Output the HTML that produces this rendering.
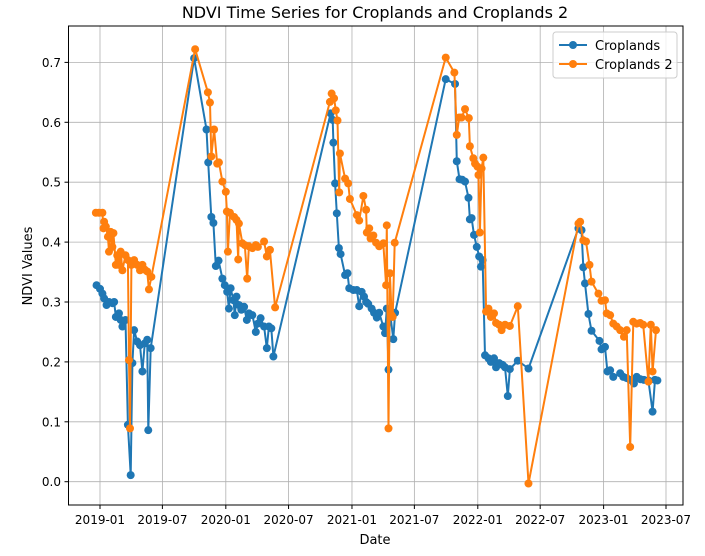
<!DOCTYPE html>
<html><head><meta charset="utf-8"><style>
html,body{margin:0;padding:0;background:#fff;}
svg{display:block;font-family:"DejaVu Sans","Liberation Sans",sans-serif;}
</style></head><body>
<svg id="chart" width="705" height="556" viewBox="0 0 705 556">
<rect width="705" height="556" fill="#fff"/>
<g id="grid"></g>
<g id="series"></g>
<rect x="68.5" y="26" width="614.5" height="479" fill="none" stroke="#000" stroke-width="1"/>
<g id="ticks"></g>
<text x="375" y="18" text-anchor="middle" font-size="16">NDVI Time Series for Croplands and Croplands 2</text>
<text x="375" y="544" text-anchor="middle" font-size="13">Date</text>
<text transform="translate(32,266) rotate(-90)" text-anchor="middle" font-size="13">NDVI Values</text>
<g>
<rect x="553" y="32" width="124" height="46" rx="3" fill="#fff" fill-opacity="0.8" stroke="#ccc"/>
<g>
<line x1="559" y1="45" x2="587" y2="45" stroke="#1f77b4" stroke-width="2"/><circle cx="573" cy="45" r="4" fill="#1f77b4"/>
<text x="595" y="50" font-size="13">Croplands</text></g>
<g>
<line x1="559" y1="64" x2="587" y2="64" stroke="#ff7f0e" stroke-width="2"/><circle cx="573" cy="64" r="4" fill="#ff7f0e"/>
<text x="595" y="69" font-size="13">Croplands 2</text></g>
</g>
</svg>
<script>
// days since 2019-01-01
const blueDays=[-10,0,7,12,19,26,36,41,46,55,60,65,74,81,89,94,99,108,116,123,130,137,140,147,273,309,314,323,329,336,344,355,362,369,374,379,387,391,396,403,410,418,426,432,442,452,458,466,476,484,490,497,503,669,675,677,682,687,693,698,711,718,723,735,745,752,759,766,772,778,788,795,803,810,822,827,832,837,841,851,856,1003,1030,1035,1043,1051,1059,1069,1073,1078,1085,1093,1100,1105,1110,1117,1127,1134,1143,1149,1158,1168,1175,1183,1189,1212,1243,1388,1397,1402,1407,1417,1426,1449,1455,1465,1472,1480,1489,1509,1518,1528,1538,1549,1557,1568,1578,1591,1603,1610,1617];
const blueValues=[0.328,0.322,0.314,0.306,0.295,0.3,0.298,0.3,0.275,0.281,0.27,0.259,0.27,0.095,0.011,0.198,0.253,0.234,0.228,0.184,0.231,0.237,0.086,0.223,0.707,0.588,0.533,0.442,0.432,0.36,0.369,0.339,0.328,0.317,0.289,0.323,0.303,0.278,0.309,0.295,0.287,0.292,0.27,0.281,0.278,0.25,0.264,0.273,0.259,0.223,0.259,0.256,0.209,0.615,0.604,0.566,0.498,0.448,0.39,0.38,0.345,0.348,0.323,0.32,0.32,0.293,0.317,0.309,0.3,0.297,0.289,0.282,0.274,0.282,0.259,0.248,0.289,0.187,0.284,0.238,0.282,0.672,0.664,0.535,0.505,0.504,0.501,0.474,0.438,0.44,0.412,0.392,0.376,0.359,0.37,0.211,0.206,0.2,0.206,0.191,0.198,0.195,0.191,0.143,0.188,0.202,0.189,0.423,0.42,0.358,0.331,0.28,0.252,0.235,0.221,0.225,0.184,0.186,0.175,0.181,0.175,0.173,0.17,0.164,0.175,0.171,0.17,0.169,0.117,0.17,0.169];
const orangeDays=[-12,-3,7,10,12,17,23,26,31,36,39,46,50,55,60,65,74,81,84,87,91,99,108,116,123,130,137,142,149,276,313,319,323,331,340,345,355,365,368,371,377,389,396,401,403,413,420,427,432,442,452,458,476,484,493,508,667,672,679,684,689,694,696,711,720,725,745,752,764,772,774,781,785,793,801,810,822,830,832,837,841,846,849,855,1003,1028,1035,1042,1049,1059,1070,1073,1083,1088,1095,1098,1102,1107,1112,1120,1127,1134,1143,1149,1158,1165,1175,1189,1212,1243,1388,1393,1402,1410,1420,1426,1446,1455,1465,1470,1480,1489,1499,1509,1520,1528,1538,1547,1557,1567,1576,1591,1598,1603,1613];
const orangeValues=[0.449,0.449,0.449,0.423,0.434,0.426,0.409,0.384,0.417,0.392,0.415,0.362,0.378,0.362,0.384,0.353,0.378,0.37,0.203,0.089,0.362,0.37,0.362,0.353,0.362,0.354,0.351,0.321,0.342,0.722,0.65,0.633,0.543,0.588,0.531,0.533,0.501,0.484,0.451,0.384,0.449,0.442,0.437,0.371,0.431,0.398,0.395,0.339,0.393,0.39,0.395,0.392,0.401,0.376,0.387,0.291,0.634,0.648,0.64,0.62,0.603,0.483,0.548,0.506,0.498,0.472,0.445,0.436,0.477,0.454,0.416,0.423,0.406,0.411,0.399,0.393,0.398,0.328,0.428,0.089,0.348,0.278,0.275,0.399,0.708,0.683,0.579,0.608,0.608,0.622,0.607,0.56,0.54,0.531,0.526,0.512,0.416,0.523,0.541,0.284,0.289,0.275,0.281,0.265,0.262,0.253,0.262,0.26,0.293,-0.003,0.431,0.434,0.403,0.401,0.362,0.334,0.314,0.302,0.303,0.281,0.278,0.264,0.259,0.253,0.242,0.253,0.058,0.267,0.264,0.265,0.262,0.167,0.262,0.184,0.253];
const xTickLabels=["2019-01","2019-07","2020-01","2020-07","2021-01","2021-07","2022-01","2022-07","2023-01","2023-07"];
const xTickDays=[0,181,365,547,731,912,1096,1277,1461,1642];
const yTickValues=[0.0,0.1,0.2,0.3,0.4,0.5,0.6,0.7];

const NS="http://www.w3.org/2000/svg";
const xScale=d=>100+d*(566/1642);
const yScale=v=>481.7-v*599;
function mk(tag,attrs,parent){const e=document.createElementNS(NS,tag);for(const k in attrs)e.setAttribute(k,attrs[k]);parent.appendChild(e);return e;}
const grid=document.getElementById('grid'),ticks=document.getElementById('ticks'),series=document.getElementById('series');
xTickDays.forEach((d,i)=>{
  const x=xScale(d);
  const g=mk('line',{x1:x,x2:x,y1:26,y2:505,stroke:'#b0b0b0','stroke-width':0.8},grid);
  
  
  mk('line',{x1:x,x2:x,y1:505,y2:509,stroke:'#000'},ticks);
  const t=mk('text',{x:x,y:524,'text-anchor':'middle','font-size':12},ticks);
  t.textContent=xTickLabels[i];
  
  
});
yTickValues.forEach(v=>{
  const y=yScale(v);
  const g=mk('line',{x1:68.5,x2:683,y1:y,y2:y,stroke:'#b0b0b0','stroke-width':0.8},grid);
  
  
  mk('line',{x1:64.5,x2:68.5,y1:y,y2:y,stroke:'#000'},ticks);
  const t=mk('text',{x:61,y:y+4.5,'text-anchor':'end','font-size':12},ticks);
  t.textContent=v.toFixed(1);
  
  
});
function draw(days,vals,color,name){
  const g=mk('g',{},series);
  
  
  const pts=days.map((d,i)=>xScale(d).toFixed(1)+','+yScale(vals[i]).toFixed(1)).join(' ');
  const pl=mk('polyline',{points:pts,fill:'none',stroke:color,'stroke-width':2,'stroke-linejoin':'round'},g);
  
  
  days.forEach((d,i)=>{
    const c=mk('circle',{cx:xScale(d),cy:yScale(vals[i]),r:4,fill:color},g);
    
    
  });
}
draw(blueDays,blueValues,'#1f77b4','croplands-series');
draw(orangeDays,orangeValues,'#ff7f0e','croplands-2-series');
</script>
</body></html>
